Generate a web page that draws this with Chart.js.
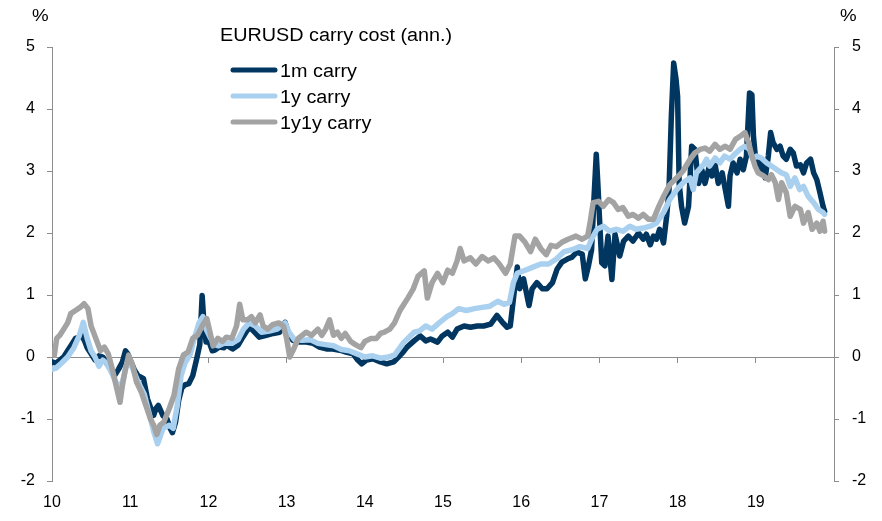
<!DOCTYPE html>
<html lang="en">
<head>
<meta charset="UTF-8">
<title>EURUSD carry cost (ann.)</title>
<script src="https://cdn.jsdelivr.net/npm/chart.js"></script>
<style>
  html, body { margin: 0; padding: 0; background: #fff; }
</style>
</head>
<body>
<canvas id="carryChart" width="882" height="521"></canvas>
<script>
// x = year as 10.xx ... 19.xx, y = carry in %
const carry1m = [
  [10.00,-0.08],[10.05,-0.10],[10.10,-0.05],[10.15,0.00],[10.20,0.10],[10.25,0.20],[10.30,0.30],[10.35,0.32],
  [10.38,0.35],[10.42,0.25],[10.45,0.15],[10.50,0.05],[10.55,-0.05],[10.60,0.02],[10.65,0.00],[10.70,-0.10],
  [10.75,-0.20],[10.80,-0.30],[10.85,-0.20],[10.90,-0.08],[10.94,0.10],[10.97,0.05],[11.00,-0.05],[11.05,-0.20],
  [11.10,-0.30],[11.17,-0.35],[11.22,-0.67],[11.27,-0.85],[11.30,-0.94],[11.33,-0.83],[11.36,-0.78],[11.42,-0.95],
  [11.47,-1.00],[11.51,-1.15],[11.54,-1.22],[11.58,-1.05],[11.62,-0.70],[11.66,-0.50],[11.70,-0.45],[11.75,-0.43],
  [11.80,-0.30],[11.85,-0.03],[11.89,0.20],[11.92,0.99],[11.94,0.60],[11.97,0.24],[12.01,0.24],[12.05,0.10],
  [12.08,0.11],[12.14,0.16],[12.20,0.15],[12.23,0.19],[12.31,0.13],[12.38,0.19],[12.44,0.32],[12.49,0.42],
  [12.53,0.48],[12.59,0.40],[12.65,0.32],[12.74,0.35],[12.83,0.38],[12.91,0.40],[12.98,0.56],[13.02,0.40],
  [13.08,0.27],[13.17,0.24],[13.25,0.24],[13.34,0.22],[13.42,0.16],[13.51,0.13],[13.59,0.13],[13.68,0.11],
  [13.76,0.08],[13.85,0.05],[13.91,-0.05],[13.96,-0.11],[14.02,-0.05],[14.11,-0.03],[14.20,-0.08],[14.28,-0.11],
  [14.37,-0.08],[14.43,0.00],[14.49,0.08],[14.54,0.16],[14.63,0.26],[14.71,0.34],[14.78,0.26],[14.84,0.29],
  [14.93,0.24],[14.99,0.34],[15.06,0.40],[15.12,0.32],[15.18,0.45],[15.27,0.50],[15.35,0.48],[15.44,0.50],
  [15.52,0.50],[15.61,0.53],[15.69,0.67],[15.76,0.56],[15.82,0.48],[15.86,0.50],[15.91,1.04],[15.95,1.45],
  [15.98,1.10],[16.03,1.26],[16.10,0.83],[16.14,1.10],[16.20,1.20],[16.27,1.10],[16.33,1.10],[16.40,1.20],
  [16.46,1.42],[16.52,1.53],[16.59,1.58],[16.65,1.61],[16.71,1.69],[16.78,1.66],[16.82,1.26],[16.86,1.47],
  [16.90,1.73],[16.93,2.54],[16.96,3.27],[16.98,2.80],[17.00,2.27],[17.03,1.52],[17.07,1.47],[17.11,1.95],
  [17.16,1.25],[17.20,1.98],[17.26,1.63],[17.31,1.87],[17.37,1.95],[17.43,1.87],[17.50,2.00],[17.56,1.90],
  [17.60,1.98],[17.65,1.81],[17.69,1.95],[17.73,1.90],[17.77,2.06],[17.82,1.84],[17.86,2.27],[17.89,2.70],
  [17.92,3.88],[17.95,4.74],[17.98,4.48],[18.00,4.20],[18.02,2.80],[18.05,2.43],[18.09,2.16],[18.14,2.43],
  [18.18,3.40],[18.22,3.35],[18.27,2.80],[18.31,3.02],[18.35,2.80],[18.40,3.05],[18.44,2.92],[18.48,3.10],
  [18.52,2.80],[18.57,2.97],[18.61,2.70],[18.65,2.43],[18.67,2.92],[18.71,3.13],[18.76,2.97],[18.80,3.19],
  [18.84,3.02],[18.88,3.24],[18.92,4.26],[18.95,4.23],[18.97,3.56],[18.99,3.29],[19.03,3.02],[19.07,3.19],
  [19.12,2.89],[19.16,3.24],[19.19,3.62],[19.22,3.46],[19.27,3.35],[19.31,3.40],[19.35,3.24],[19.39,3.19],
  [19.44,3.35],[19.48,3.29],[19.52,3.08],[19.57,3.10],[19.61,2.97],[19.65,3.13],[19.70,3.19],[19.74,2.97],
  [19.78,2.86],[19.82,2.65],[19.86,2.43],[19.88,2.35]
];

const carry1y = [
  [10.00,-0.20],[10.05,-0.18],[10.12,-0.10],[10.20,0.00],[10.28,0.15],[10.35,0.35],[10.40,0.56],[10.45,0.30],
  [10.50,0.10],[10.55,0.00],[10.60,-0.15],[10.65,-0.05],[10.70,-0.10],[10.78,-0.30],[10.85,-0.50],[10.90,-0.40],
  [10.96,-0.10],[11.02,-0.15],[11.10,-0.40],[11.18,-0.60],[11.25,-0.95],[11.30,-1.20],[11.35,-1.40],[11.42,-1.15],
  [11.50,-1.10],[11.55,-1.15],[11.60,-0.80],[11.65,-0.30],[11.70,-0.10],[11.77,0.05],[11.82,0.30],[11.88,0.55],
  [11.93,0.65],[11.97,0.45],[12.03,0.30],[12.08,0.20],[12.13,0.18],[12.20,0.22],[12.30,0.22],[12.38,0.28],
  [12.45,0.45],[12.52,0.55],[12.60,0.50],[12.68,0.40],[12.78,0.42],[12.88,0.45],[12.98,0.55],[13.03,0.40],
  [13.10,0.28],[13.20,0.27],[13.30,0.28],[13.40,0.22],[13.50,0.20],[13.60,0.18],[13.70,0.12],[13.80,0.10],
  [13.90,0.05],[14.00,0.00],[14.10,0.02],[14.20,-0.02],[14.30,0.00],[14.38,0.03],[14.45,0.15],[14.50,0.24],
  [14.55,0.30],[14.63,0.40],[14.70,0.42],[14.78,0.50],[14.86,0.45],[14.95,0.55],[15.05,0.65],[15.12,0.70],
  [15.20,0.78],[15.30,0.75],[15.40,0.78],[15.50,0.80],[15.60,0.82],[15.70,0.90],[15.78,0.85],[15.85,0.88],
  [15.90,1.20],[15.95,1.35],[16.05,1.40],[16.15,1.45],[16.25,1.50],[16.35,1.50],[16.45,1.58],[16.55,1.70],
  [16.65,1.73],[16.75,1.78],[16.85,1.75],[16.90,1.90],[16.97,2.06],[17.05,2.11],[17.13,2.03],[17.22,2.06],
  [17.30,2.03],[17.39,2.11],[17.47,2.06],[17.56,2.08],[17.65,2.11],[17.73,2.16],[17.82,2.33],[17.90,2.54],
  [17.99,2.70],[18.07,2.81],[18.16,2.89],[18.20,2.70],[18.24,2.97],[18.33,3.10],[18.37,3.19],[18.41,3.08],
  [18.48,3.21],[18.54,3.13],[18.60,3.24],[18.67,3.19],[18.73,3.27],[18.80,3.35],[18.86,3.40],[18.92,3.35],
  [18.96,3.19],[19.01,3.24],[19.07,3.21],[19.14,3.13],[19.20,3.08],[19.27,3.02],[19.33,2.97],[19.39,2.94],
  [19.44,2.75],[19.50,2.89],[19.56,2.70],[19.61,2.75],[19.67,2.59],[19.74,2.49],[19.80,2.38],[19.86,2.33],
  [19.88,2.30]
];

const carry1y1y = [
  [10.00,0.05],[10.03,0.03],[10.06,0.30],[10.10,0.35],[10.15,0.45],[10.20,0.55],[10.24,0.70],[10.30,0.75],
  [10.36,0.80],[10.41,0.86],[10.46,0.78],[10.50,0.50],[10.56,0.30],[10.62,0.10],[10.67,0.16],[10.72,0.05],
  [10.77,-0.19],[10.82,-0.46],[10.87,-0.73],[10.90,-0.46],[10.94,-0.19],[10.98,0.03],[11.03,-0.13],[11.08,-0.40],
  [11.14,-0.56],[11.20,-0.78],[11.26,-1.00],[11.30,-1.10],[11.34,-1.25],[11.38,-1.10],[11.43,-1.05],[11.50,-0.83],
  [11.56,-0.62],[11.62,-0.19],[11.68,0.03],[11.74,0.08],[11.80,0.30],[11.86,0.35],[11.92,0.50],[11.98,0.62],
  [12.02,0.40],[12.06,0.18],[12.12,0.30],[12.18,0.25],[12.23,0.32],[12.30,0.30],[12.36,0.50],[12.40,0.85],
  [12.44,0.60],[12.50,0.60],[12.55,0.65],[12.60,0.55],[12.66,0.68],[12.70,0.50],[12.76,0.45],[12.82,0.52],
  [12.90,0.55],[12.96,0.50],[13.00,0.30],[13.04,0.00],[13.08,0.10],[13.15,0.30],[13.25,0.40],[13.32,0.35],
  [13.40,0.45],[13.45,0.35],[13.50,0.45],[13.55,0.60],[13.60,0.35],[13.65,0.40],[13.70,0.30],[13.75,0.38],
  [13.82,0.25],[13.88,0.20],[13.95,0.15],[14.00,0.25],[14.08,0.30],[14.15,0.30],[14.20,0.38],[14.25,0.40],
  [14.32,0.45],[14.38,0.55],[14.45,0.75],[14.50,0.85],[14.55,0.95],[14.62,1.10],[14.68,1.30],[14.76,1.39],
  [14.80,0.95],[14.86,1.20],[14.93,1.35],[15.00,1.20],[15.06,1.40],[15.12,1.35],[15.18,1.55],[15.22,1.75],
  [15.27,1.55],[15.35,1.60],[15.42,1.50],[15.50,1.62],[15.58,1.55],[15.65,1.60],[15.72,1.50],[15.80,1.35],
  [15.86,1.50],[15.92,1.95],[15.98,1.95],[16.05,1.85],[16.12,1.70],[16.18,1.90],[16.25,1.75],[16.32,1.65],
  [16.38,1.80],[16.45,1.78],[16.52,1.85],[16.60,1.90],[16.70,1.95],[16.78,1.90],[16.85,1.95],[16.88,2.16],
  [16.92,2.49],[16.99,2.51],[17.05,2.43],[17.12,2.54],[17.18,2.49],[17.24,2.38],[17.30,2.41],[17.37,2.27],
  [17.43,2.30],[17.50,2.24],[17.56,2.30],[17.63,2.22],[17.69,2.22],[17.76,2.43],[17.82,2.59],[17.90,2.78],
  [17.99,2.89],[18.07,3.00],[18.16,3.19],[18.22,3.29],[18.29,3.35],[18.35,3.37],[18.41,3.32],[18.48,3.43],
  [18.54,3.35],[18.61,3.40],[18.67,3.35],[18.74,3.51],[18.80,3.56],[18.86,3.62],[18.91,3.45],[18.95,3.24],
  [18.99,3.08],[19.03,2.97],[19.10,2.92],[19.16,2.86],[19.20,2.94],[19.25,2.81],[19.29,2.54],[19.33,2.81],
  [19.39,2.65],[19.44,2.27],[19.50,2.43],[19.57,2.38],[19.61,2.16],[19.67,2.33],[19.72,2.06],[19.78,2.16],
  [19.82,2.03],[19.86,2.19],[19.88,2.03]
];

const seriesNames = ['1m carry', '1y carry', '1y1y carry'];
const seriesColors = ['#00365f', '#a9d0ef', '#a3a3a3'];
const chartTitle = 'EURUSD carry cost (ann.)';
const yTicks = { min: -2, max: 5, step: 1 };
const xTicks = { min: 10, max: 20, step: 1 };

const axisGray = '#8c8c8c';
const fontFamily = '"Liberation Sans", Arial, sans-serif';

function toPoints(arr) {
  return arr.map(p => ({ x: p[0], y: p[1] }));
}

// title, legend and the two % unit labels, drawn on top
const annotations = {
  id: 'annotations',
  afterDraw(chart) {
    const ctx = chart.ctx;
    const stretch = 1.1;
    function text(str, x, y, size) {
      ctx.save();
      ctx.font = size + 'px ' + fontFamily;
      ctx.fillStyle = '#000';
      ctx.textBaseline = 'alphabetic';
      ctx.translate(x, y);
      ctx.scale(stretch, 1);
      ctx.fillText(str, 0, 0);
      ctx.restore();
    }
    text('%', 32, 21, 17);
    text('%', 840, 21, 17);
    text(chartTitle, 220, 41, 18);

    seriesNames.forEach((name, i) => {
      const y = 70 + i * 26;
      ctx.save();
      ctx.strokeStyle = seriesColors[i];
      ctx.lineWidth = 5;
      ctx.lineCap = 'round';
      ctx.beginPath();
      ctx.moveTo(233, y);
      ctx.lineTo(275, y);
      ctx.stroke();
      ctx.restore();
      text(name, 280, y + 7, 18);
    });
  }
};

const ctx = document.getElementById('carryChart').getContext('2d');
const chart = new Chart(ctx, {
  type: 'line',
  data: {
    datasets: [
      { label: seriesNames[0], data: toPoints(carry1m), borderColor: seriesColors[0], order: 3 },
      { label: seriesNames[1], data: toPoints(carry1y), borderColor: seriesColors[1], order: 2 },
      { label: seriesNames[2], data: toPoints(carry1y1y), borderColor: seriesColors[2], order: 1 }
    ]
  },
  options: {
    responsive: false,
    animation: false,
    events: [],
    layout: { padding: { top: 47, left: 0, right: 0, bottom: 0 } },
    elements: {
      point: { radius: 0 },
      line: { borderWidth: 5.5, tension: 0, fill: false, borderJoinStyle: 'round', borderCapStyle: 'round' }
    },
    plugins: {
      legend: { display: false },
      tooltip: { enabled: false }
    },
    scales: {
      x: {
        type: 'linear',
        position: 'bottom',
        min: xTicks.min,
        max: xTicks.max,
        grid: { display: false, drawTicks: false },
        border: { display: false },
        ticks: {
          stepSize: xTicks.step,
          autoSkip: false,
          maxRotation: 0,
          padding: 12,
          color: '#000',
          font: { family: fontFamily, size: 16 },
          callback: v => (v < xTicks.max ? String(v) : '')
        },
        afterFit: s => { s.height = 40; }
      },
      xZero: {
        type: 'linear',
        axis: 'x',
        position: { y: 0 },
        min: xTicks.min,
        max: xTicks.max,
        grid: { drawOnChartArea: false, drawTicks: true, tickLength: 5, color: axisGray, lineWidth: 1 },
        border: { display: true, color: axisGray, width: 1 },
        ticks: { display: false, stepSize: xTicks.step, autoSkip: false }
      },
      y: {
        position: 'left',
        min: yTicks.min,
        max: yTicks.max,
        grid: { drawOnChartArea: false, tickLength: 5, color: axisGray },
        border: { color: axisGray, width: 1 },
        ticks: {
          stepSize: yTicks.step,
          padding: 12,
          color: '#000',
          font: { family: fontFamily, size: 16 }
        },
        afterFit: s => { s.width = 52; }
      },
      y2: {
        position: 'right',
        min: yTicks.min,
        max: yTicks.max,
        grid: { drawOnChartArea: false, tickLength: 5, color: axisGray },
        border: { color: axisGray, width: 1 },
        ticks: {
          stepSize: yTicks.step,
          padding: 13,
          color: '#000',
          font: { family: fontFamily, size: 16 }
        },
        afterFit: s => { s.width = 48; }
      }
    }
  },
  plugins: [annotations]
});
</script>
</body>
</html>
